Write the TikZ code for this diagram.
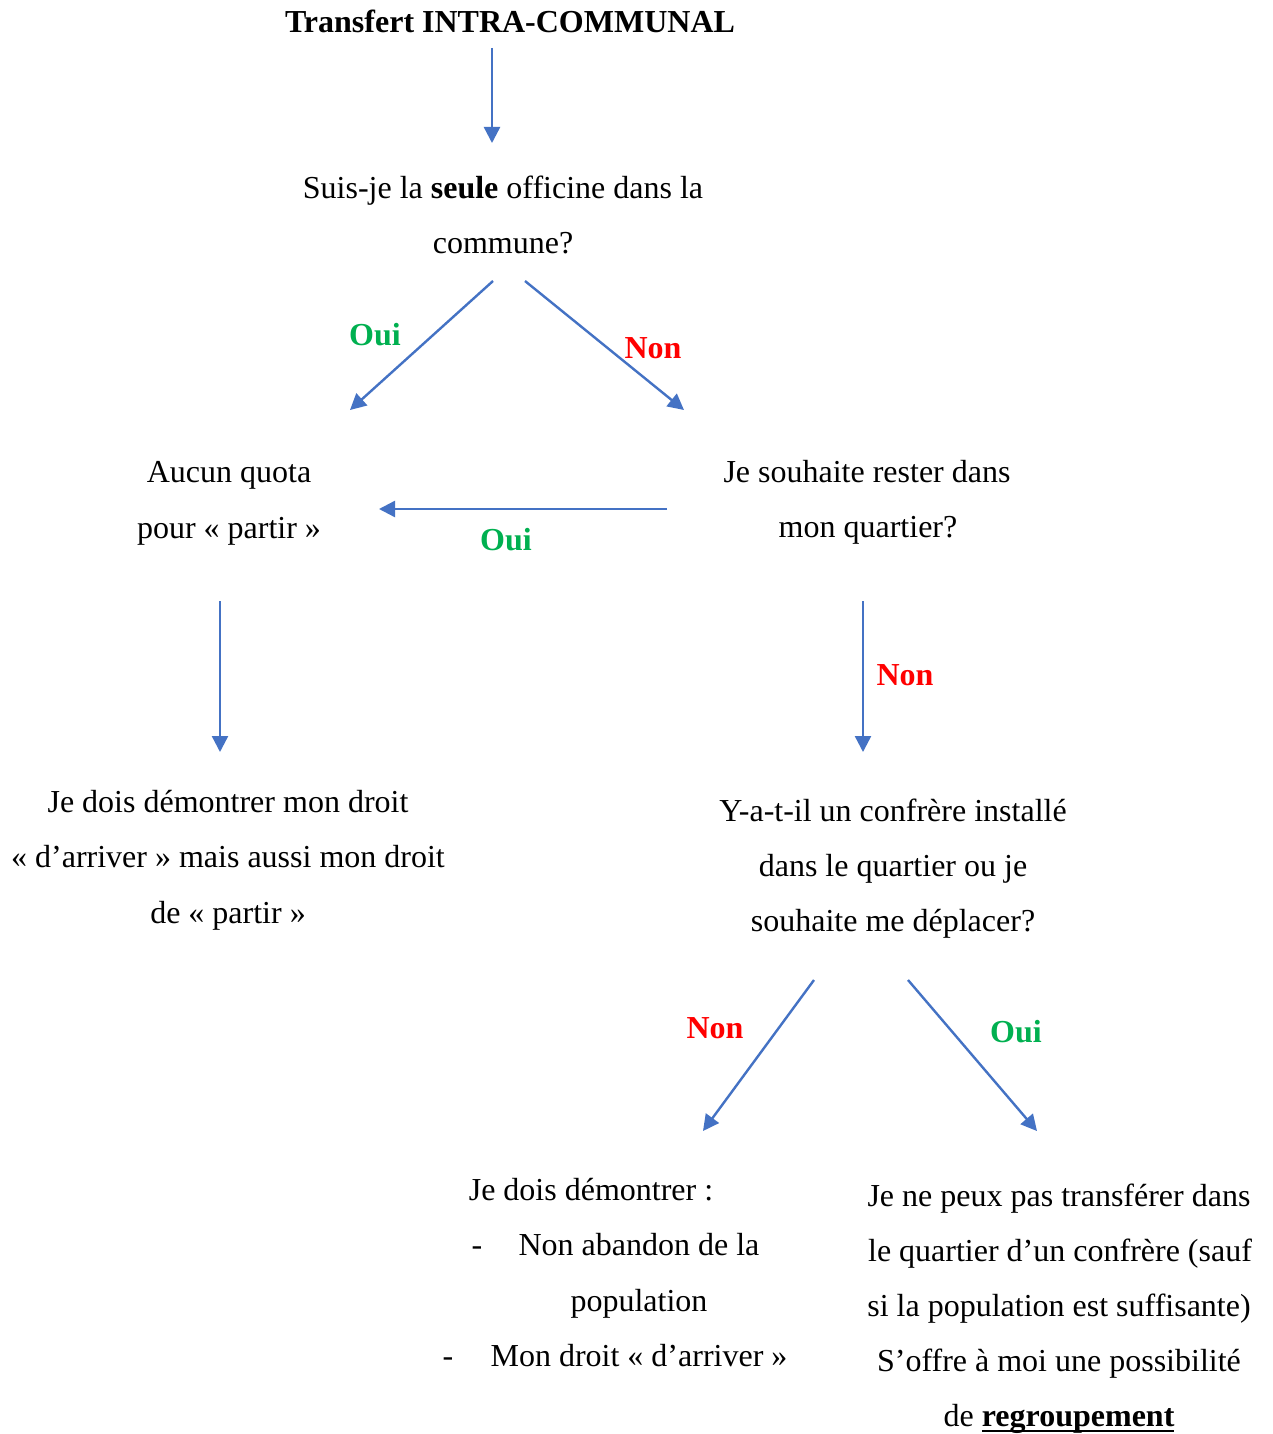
\documentclass[tikz,border=0pt]{standalone}
\usepackage{fontspec}
\setmainfont{Liberation Serif}
\usetikzlibrary{arrows.meta}
\definecolor{arrowblue}{HTML}{4472C4}
\definecolor{ouigreen}{HTML}{00B050}
\definecolor{nonred}{HTML}{FF0000}
\newlength\rgwidth
\begin{document}
\begin{tikzpicture}[x=1pt,y=-1pt,
  txt/.style={anchor=base,inner sep=0pt,font=\fontsize{32}{38}\selectfont},
  lbl/.style={anchor=base,inner sep=0pt,font=\fontsize{32}{38}\selectfont\bfseries},
  oui/.style={lbl,text=ouigreen},
  non/.style={lbl,text=nonred},
  conn/.style={draw=arrowblue,line width=2.4pt,-{Triangle[length=16pt,width=16pt]}}]
\useasboundingbox[fill=white] (0,0) rectangle (1272,1434);

% texts
\node[txt,font=\fontsize{32}{38}\selectfont\bfseries] (title) at (510,33) {Transfert INTRA-COMMUNAL};
\node[txt] (q1a) at (503,198) {Suis-je la \textbf{seule} officine dans la};
\node[txt] (q1b) at (503,253) {commune?};

\node[txt] (auc1) at (229,482) {Aucun quota};
\node[txt] (auc2) at (229,538) {pour « partir »};

\node[txt] (sou1) at (867,482) {Je souhaite rester dans};
\node[txt] (sou2) at (868,537) {mon quartier?};

\node[txt] (dem1) at (228,812) {Je dois démontrer mon droit};
\node[txt] (dem2) at (228,867) {« d’arriver » mais aussi mon droit};
\node[txt] (dem3) at (228,923) {de « partir »};

\node[txt] (ya1) at (893,821) {Y-a-t-il un confrère installé};
\node[txt] (ya2) at (893,876) {dans le quartier ou je};
\node[txt] (ya3) at (893,931) {souhaite me déplacer?};

\node[txt] (jd0) at (591,1200) {Je dois démontrer :};
\node[txt] (dash1) at (477,1255) {-};
\node[txt] (jd1) at (639,1255) {Non abandon de la};
\node[txt] (jd2) at (639,1311) {population};
\node[txt] (dash2) at (448,1366) {-};
\node[txt] (jd3) at (639,1366) {Mon droit « d’arriver »};

\node[txt] (jn1) at (1059,1206) {Je ne peux pas transférer dans};
\node[txt] (jn2) at (1060,1261) {le quartier d’un confrère (sauf};
\node[txt] (jn3) at (1059,1316) {si la population est suffisante)};
\node[txt] (jn4) at (1059,1371) {S’offre à moi une possibilité};
\node[txt] (jn5) at (1059,1426) {de \settowidth{\rgwidth}{\bfseries regroupement}\rlap{\rule[-6pt]{\rgwidth}{2.2pt}}\textbf{regroupement}};

% labels
\node[oui] (l1) at (375,345) {Oui};
\node[non] (l2) at (653,358) {Non};
\node[oui] (l3) at (506,550) {Oui};
\node[non] (l4) at (905,685) {Non};
\node[non] (l5) at (715,1038) {Non};
\node[oui] (l6) at (1016,1042) {Oui};

% connector endpoints
\coordinate (a1s) at (492,48);   \coordinate (a1e) at (492,143);
\coordinate (a2s) at (493,281);  \coordinate (a2e) at (350,410);
\coordinate (a3s) at (525,281);  \coordinate (a3e) at (684,410);
\coordinate (a4s) at (667,509);  \coordinate (a4e) at (379,509);
\coordinate (a5s) at (220,601);  \coordinate (a5e) at (220,752);
\coordinate (a6s) at (863,601);  \coordinate (a6e) at (863,752);
\coordinate (a7s) at (814,980);  \coordinate (a7e) at (703,1131);
\coordinate (a8s) at (908,980);  \coordinate (a8e) at (1037,1131);

\draw[conn] (a1s) -- (a1e);
\draw[conn] (a2s) -- (a2e);
\draw[conn] (a3s) -- (a3e);
\draw[conn] (a4s) -- (a4e);
\draw[conn] (a5s) -- (a5e);
\draw[conn] (a6s) -- (a6e);
\draw[conn] (a7s) -- (a7e);
\draw[conn] (a8s) -- (a8e);
\end{tikzpicture}
\end{document}
